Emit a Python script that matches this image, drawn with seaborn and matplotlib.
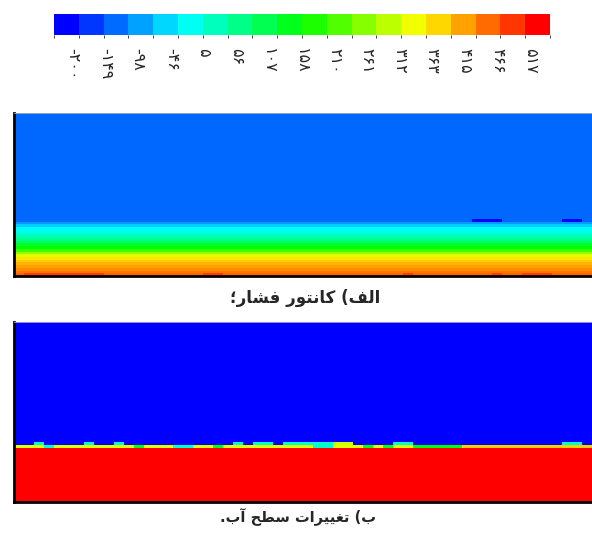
import numpy as np
import seaborn as sns
import matplotlib.pyplot as plt
from matplotlib.colors import LinearSegmentedColormap, BoundaryNorm
from matplotlib.cm import ScalarMappable

# Fluent-style rainbow: blue -> cyan -> green -> yellow -> red
rainbow = LinearSegmentedColormap.from_list(
    "fluent", ["#0000ff", "#00ffff", "#00ff00", "#ffff00", "#ff0000"])

# colorbar (pressure levels)
cbar_min, cbar_max, n_levels = -230, 548, 20
cbar_ticks = [-200, -149, -98, -46, 5, 56, 107, 158, 210, 261, 312, 363, 415, 466, 517]

# panel a: pressure by depth (top -> bottom)
pressure_profile = [-150] * 40 + [-110, -70, -40, -20, 0, 25, 55, 90, 125, 160,
                                  210, 270, 330, 370, 390, 410, 425, 440, 455, 470]
pressure_bottom = [470, 500, 500, 500, 500, 500, 500, 500, 500, 470, 470, 470, 470, 470, 470,
                   470, 470, 470, 470, 500, 500, 470, 470, 470, 470, 470, 470, 470, 470, 470,
                   470, 470, 470, 470, 470, 470, 470, 470, 470, 500, 470, 470, 470, 470, 470,
                   470, 470, 470, 500, 470, 470, 500, 500, 500, 470, 470, 470, 470]
dash_row = 39
dash_cols = [46, 47, 48, 55, 56]
dash_value = -225

# panel b: volume fraction of water (0 air, 1 water)
vof_profile = [0.0] * 42 + [1.0] * 18
surface_upper = [0, 0, .3, 0, 0, 0, 0, .3, 0, 0, .3, 0, 0, 0, 0, 0, 0, 0, 0, 0,
                 0, 0, .3, 0, .3, .3, 0, .3, .3, .3, .3, .3, .7, .7, 0, 0, 0, 0, .3, .3,
                 0, 0, 0, 0, 0, 0, 0, 0, 0, 0, 0, 0, 0, 0, 0, .3, .3, 0]
surface_line = [.72, .72, .72, .3, .72, .72, .72, .72, .72, .72, .72, .72, .5, .72, .72, .72, .3, .3, .72, .72,
                .5, .72, .72, .72, .72, .72, .72, .72, .72, .72, .3, .3, .72, .72, .72, .5, .72, .5, .72, .72,
                .5, .5, .5, .5, .5, .8, .8, .8, .8, .8, .8, .8, .8, .8, .8, .8, .8, .8]
n_cols = 58

caption_a = "الف) کانتور فشار؛"
caption_b = "ب) تغییرات سطح آب."

# matplotlib has no arabic shaping, so pick the presentation forms by hand
forms = {
    "ا": ("\uFE8D", "\uFE8E", None, None),
    "آ": ("\uFE81", "\uFE82", None, None),
    "ر": ("\uFEAD", "\uFEAE", None, None),
    "و": ("\uFEED", "\uFEEE", None, None),
    "ب": ("\uFE8F", "\uFE90", "\uFE91", "\uFE92"),
    "ت": ("\uFE95", "\uFE96", "\uFE97", "\uFE98"),
    "ح": ("\uFEA1", "\uFEA2", "\uFEA3", "\uFEA4"),
    "س": ("\uFEB1", "\uFEB2", "\uFEB3", "\uFEB4"),
    "ش": ("\uFEB5", "\uFEB6", "\uFEB7", "\uFEB8"),
    "ط": ("\uFEC1", "\uFEC2", "\uFEC3", "\uFEC4"),
    "غ": ("\uFECD", "\uFECE", "\uFECF", "\uFED0"),
    "ف": ("\uFED1", "\uFED2", "\uFED3", "\uFED4"),
    "ل": ("\uFEDD", "\uFEDE", "\uFEDF", "\uFEE0"),
    "ن": ("\uFEE5", "\uFEE6", "\uFEE7", "\uFEE8"),
    "ک": ("\uFB8E", "\uFB8F", "\uFB90", "\uFB91"),
    "ی": ("\uFBFC", "\uFBFD", "\uFBFE", "\uFBFF"),
}
mirror = {")": "(", "(": ")"}


def shape(text):
    out = []
    for i, ch in enumerate(text):
        if ch not in forms:
            out.append(mirror.get(ch, ch))
            continue
        prev = text[i - 1] if i > 0 else ""
        nxt = text[i + 1] if i + 1 < len(text) else ""
        join_prev = prev in forms and forms[prev][2] is not None
        join_next = nxt in forms and forms[ch][2] is not None
        iso, fin, ini, med = forms[ch]
        if join_prev and join_next:
            out.append(med)
        elif join_prev:
            out.append(fin)
        elif join_next:
            out.append(ini)
        else:
            out.append(iso)
    return "".join(reversed(out))


def fa_num(v):
    return str(v).translate(str.maketrans("0123456789", "۰۱۲۳۴۵۶۷۸۹"))


sns.set_style("white")
plt.rcParams["font.family"] = ["DejaVu Sans"]

fig = plt.figure(figsize=(5.92, 5.34), dpi=100)

# colour bar
cax = fig.add_axes([54 / 592, 1 - 35 / 534, 496 / 592, 21 / 534])
levels = np.linspace(cbar_min, cbar_max, n_levels + 1)
sm = ScalarMappable(norm=BoundaryNorm(levels, n_levels), cmap=rainbow.resampled(n_levels))
cb = fig.colorbar(sm, cax=cax, orientation="horizontal")
cb.outline.set_visible(False)
cb.set_ticks(cbar_ticks)
cb.set_ticklabels([fa_num(t) for t in cbar_ticks])
cax.tick_params(length=0, pad=9, labelsize=11.5, labelrotation=-90)

# panel a - pressure contour
field_a = np.tile(np.array(pressure_profile, dtype=float)[:, None], (1, n_cols))
field_a[-1, :] = pressure_bottom
field_a[dash_row, dash_cols] = dash_value
ax_a = fig.add_axes([14 / 592, 1 - 276 / 534, 578 / 592, 163 / 534])
sns.heatmap(field_a, ax=ax_a, cmap=rainbow, vmin=cbar_min, vmax=cbar_max,
            cbar=False, xticklabels=False, yticklabels=False)

# panel b - water surface
field_b = np.tile(np.array(vof_profile)[:, None], (1, n_cols))
field_b[40, :] = surface_upper
field_b[41, :] = surface_line
ax_b = fig.add_axes([14 / 592, 1 - 502 / 534, 578 / 592, 180 / 534])
sns.heatmap(field_b, ax=ax_b, cmap=rainbow, vmin=0, vmax=1,
            cbar=False, xticklabels=False, yticklabels=False)

for ax in (ax_a, ax_b):
    for side in ("left", "bottom"):
        ax.spines[side].set_visible(True)
        ax.spines[side].set_color("black")
        ax.spines[side].set_linewidth(2)
    ax.spines["top"].set_visible(True)
    ax.spines["top"].set_color("#b0b0b0")
    ax.spines["top"].set_linewidth(0.6)

fig.text(305 / 592, 1 - 298 / 534, shape(caption_a), ha="center", va="center",
         fontsize=12, fontweight="bold")
fig.text(298 / 592, 1 - 517 / 534, shape(caption_b), ha="center", va="center",
         fontsize=10.5, fontweight="bold")

fig.savefig("out.png", dpi=100)
plt.close()
